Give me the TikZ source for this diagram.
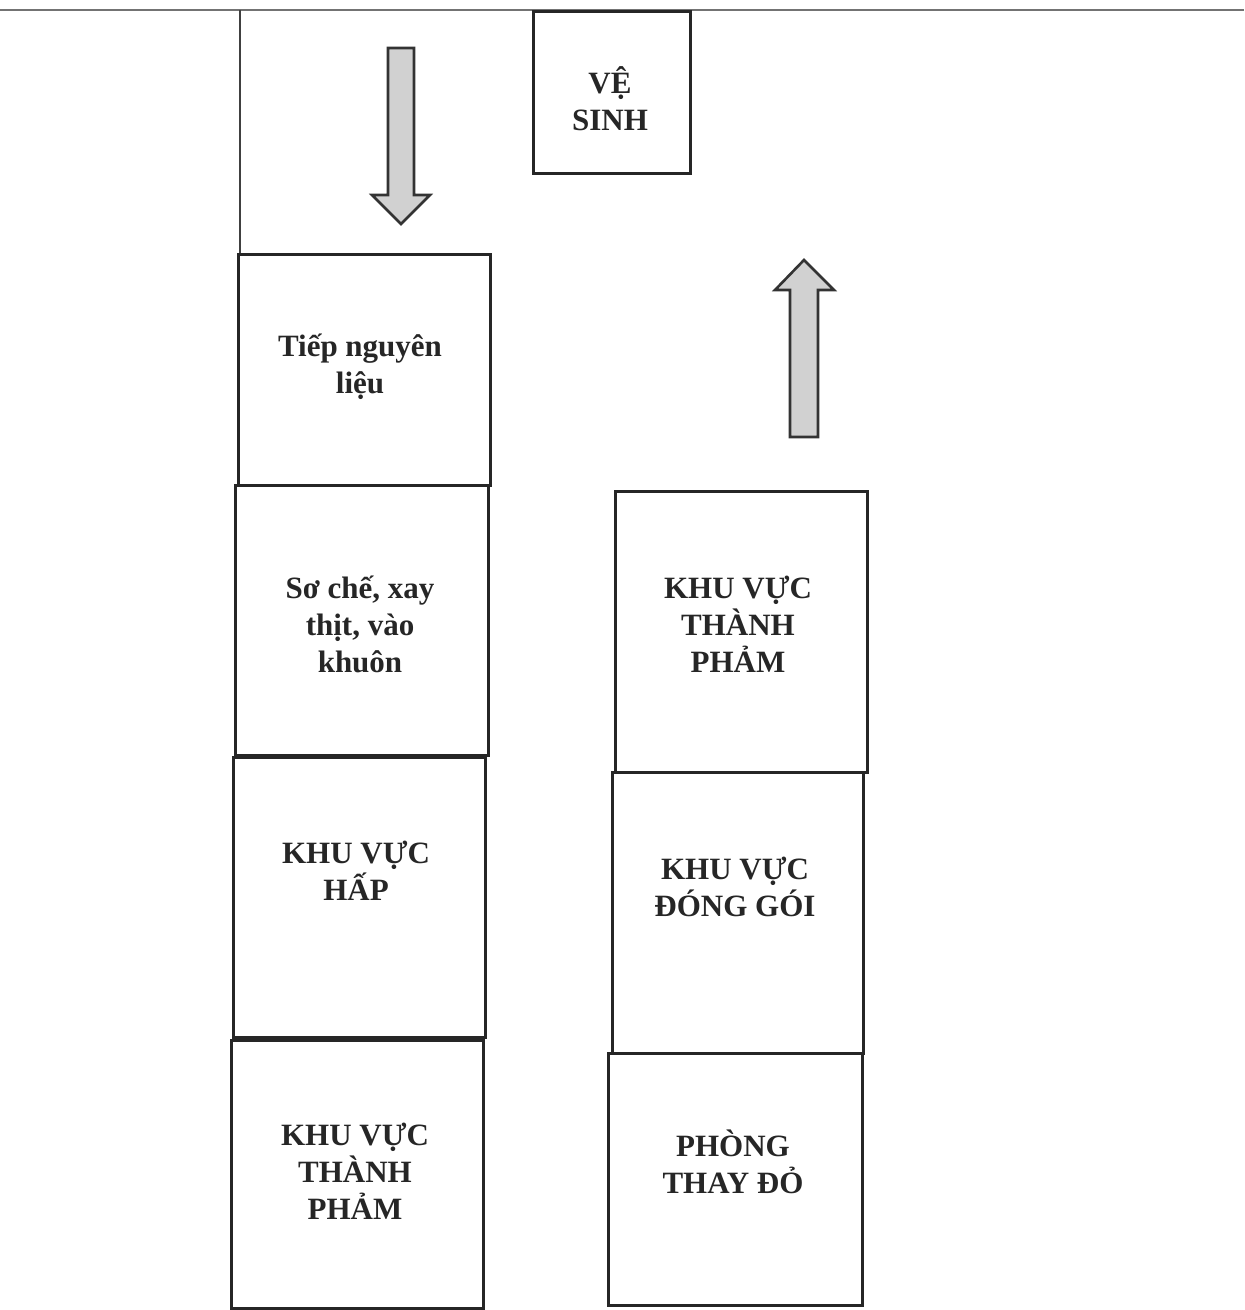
\documentclass[tikz,border=0pt]{standalone}
\usepackage{fontspec}
\setmainfont{Liberation Serif}
\begin{document}
\begin{tikzpicture}[x=0.5pt,y=-0.5pt,
  roombox/.style={draw=black!85, line width=1.5pt, inner sep=0pt},
  roomtext/.style={font=\fontsize{15.5}{18.5}\selectfont\bfseries, align=center, text=black!85, inner sep=0pt},
  flowarrow/.style={draw=black!80, line width=1.3pt, fill=black!18, line join=miter}]
\useasboundingbox (0,0) rectangle (1244,1310);
\fill[white] (0,0) rectangle (1244,1310);
% walls
\coordinate (wl) at (0,10);
\coordinate (wr) at (1244,10);
\draw[black!55, line width=1pt] (wl) -- (wr);
% boxes
\node[roombox, minimum width=126pt, minimum height=115pt] (b1) at (364,370) {};
\node[roombox, minimum width=126.5pt, minimum height=135pt] (b2) at (361.5,620) {};
\node[roombox, minimum width=126pt, minimum height=140pt] (b3) at (359,897) {};
\node[roombox, minimum width=126pt, minimum height=134pt] (b4) at (357,1174) {};
\node[roombox, minimum width=126pt, minimum height=140.5pt] (b5) at (741,631.5) {};
\node[roombox, minimum width=125.5pt, minimum height=140.5pt] (b6) at (737.5,912.5) {};
\node[roombox, minimum width=127pt, minimum height=126pt] (b7) at (735,1179) {};
\node[roombox, minimum width=78.5pt, minimum height=81pt] (vs) at (611.5,93) {};
% left wall line
\coordinate (wtop) at (240,10);
\draw[black!75, line width=1pt] (wtop) -- (wtop |- b1.north);
% texts
\node[roomtext] (t1) at (360,367) {Tiếp nguyên\\liệu};
\node[roomtext] (t2) at (360,624) {Sơ chế, xay\\thịt, vào\\khuôn};
\node[roomtext] (t3) at (356,871) {KHU VỰC\\HẤP};
\node[roomtext] (t4) at (355,1171) {KHU VỰC\\THÀNH\\PHẢM};
\node[roomtext] (t5) at (738,624) {KHU VỰC\\THÀNH\\PHẢM};
\node[roomtext] (t6) at (735,887) {KHU VỰC\\ĐÓNG GÓI};
\node[roomtext] (t7) at (733,1162) {PHÒNG\\THAY ĐỎ};
\node[roomtext] (t8) at (610,99) {VỆ\\SINH};
% arrows
\draw[flowarrow] (388,48) -- (414,48) -- (414,195) -- (430,195) -- (401,224) -- (372,195) -- (388,195) -- cycle;
\draw[flowarrow] (790,437) -- (818,437) -- (818,290) -- (834,290) -- (804,260) -- (775,290) -- (790,290) -- cycle;
\end{tikzpicture}
\end{document}
